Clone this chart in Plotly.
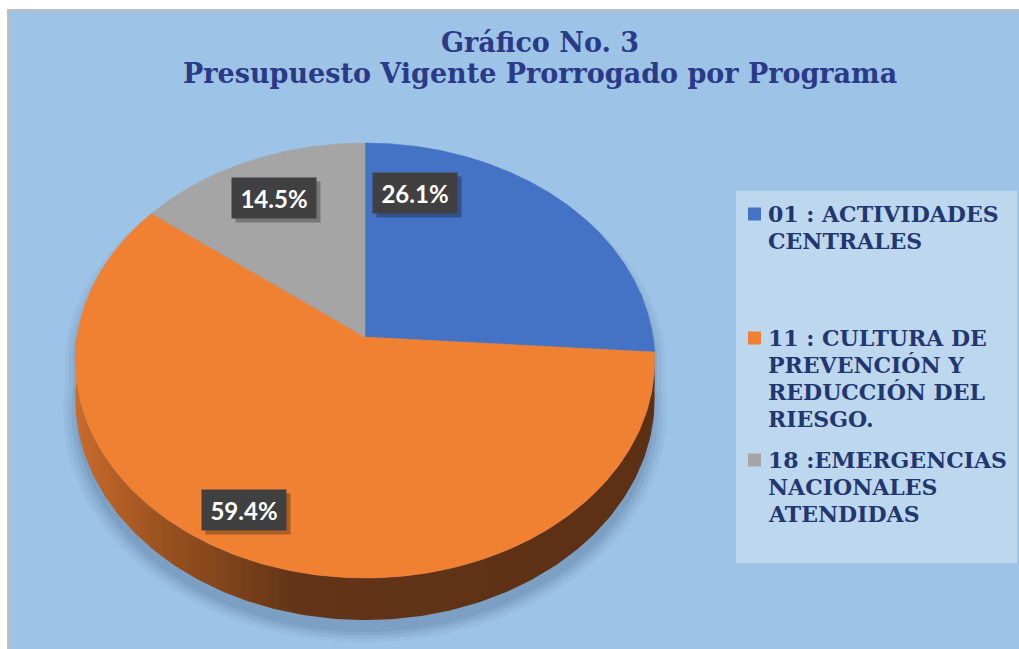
import numpy as np
import plotly.graph_objects as go

# ---------------- data ----------------
categories = [
    "01 : ACTIVIDADES<br>CENTRALES",
    "11 : CULTURA DE<br>PREVENCIÓN Y<br>REDUCCIÓN DEL<br>RIESGO.",
    "18 :EMERGENCIAS<br>NACIONALES<br>ATENDIDAS",
]
values = [26.1, 59.4, 14.5]
title_lines = ["Gráfico No. 3", "Presupuesto Vigente Prorrogado por Programa"]

# ---------------- styles / layout ----------------
W, Hh = 1019, 649
BG = "#9DC3E6"
LEG_BG = "#BDD7EE"
TITLE_C = "#2B3A87"
LEG_C = "#22376F"
colors = ["#4472C4", "#F08133", "#A5A5A5"]
wall_solid = ["#2E4E8C", None, "#6B6B6B"]
orange_wall_scale = [[0, "#C96B2C"], [0.15, "#9A521F"], [0.38, "#633417"], [1, "#5C3015"]]

# pie projection (pixel space)
CX, CY, R, RY, P, DEPTH = 365.0, 337.0, 288.0, 215.0, 0.108, 37.5


def rim(theta_deg, drop=0.0, grow=0.0, dy=0.0):
    t = np.radians(theta_deg)
    X, Z = np.sin(t), np.cos(t)
    s = 1.0 / (1.0 + P * Z)
    x = CX + (R + grow) * X * s
    y = CY - (RY + grow * 0.75) * Z * s + DEPTH * s * drop + dy
    return x, y


fig = go.Figure()

# soft shadow
for grow, alpha in [(12, 0.05), (8, 0.06), (4, 0.08), (0, 0.09)]:
    t1 = np.linspace(-90, 90, 181)
    t2 = np.linspace(90, 270, 181)
    x1, y1 = rim(t1, 0, grow, 12)
    x2, y2 = rim(t2, 1, grow, 12)
    fig.add_trace(go.Scatter(
        x=np.concatenate([x1, x2]), y=np.concatenate([y1, y2]),
        fill="toself", mode="lines", line=dict(width=0),
        fillcolor=f"rgba(30,60,100,{alpha})", hoverinfo="skip", showlegend=False))

total = sum(values)
edges = np.concatenate([[0], np.cumsum(values)]) / total * 360.0

# side walls (front half)
for i, v in enumerate(values):
    a0, a1 = edges[i], edges[i + 1]
    lo, hi = max(a0, 90.0), min(a1, 270.0)
    if lo >= hi:
        continue
    th = np.linspace(lo, hi, 200)
    xt, yt = rim(th, 0)
    xb, yb = rim(th[::-1], 1)
    kw = dict(x=np.concatenate([xt, xb]), y=np.concatenate([yt, yb]),
              fill="toself", mode="lines", line=dict(width=0),
              hoverinfo="skip", showlegend=False)
    if wall_solid[i] is None:
        kw["fillgradient"] = dict(type="horizontal", colorscale=orange_wall_scale)
    else:
        kw["fillcolor"] = wall_solid[i]
    fig.add_trace(go.Scatter(**kw))

# top faces
for i, v in enumerate(values):
    a0, a1 = edges[i], edges[i + 1]
    th = np.linspace(a0, a1, 300)
    xs, ys = rim(th, 0)
    fig.add_trace(go.Scatter(
        x=np.concatenate([[CX], xs, [CX]]), y=np.concatenate([[CY], ys, [CY]]),
        fill="toself", mode="lines", line=dict(width=0.5, color=colors[i]),
        fillcolor=colors[i], name=categories[i].replace("<br>", " "),
        text=f"{v:.1f}%", hoverinfo="name+text", showlegend=False))

# data labels
label_pos = [(415, 193), (244, 510), (274, 198)]
for i, v in enumerate(values):
    lx, ly = label_pos[i]
    txt = f"<b>{v:.1f}%</b>"
    fig.add_annotation(x=lx, y=ly, text=txt, showarrow=False, xshift=4, yshift=-4,
                       width=84, height=40, borderpad=0, bgcolor="rgba(0,0,0,0.28)",
                       font=dict(family="Lato", size=24, color="rgba(0,0,0,0)"))
    fig.add_annotation(x=lx, y=ly, text=txt, showarrow=False,
                       width=84, height=40, borderpad=0, bgcolor="#404040",
                       font=dict(family="Lato", size=24, color="white"))

# title
for line, ty in zip(title_lines, [42, 73]):
    fig.add_annotation(x=540, y=ty, text=f"<b>{line}</b>", showarrow=False,
                       font=dict(family="DejaVu Serif", size=27, color=TITLE_C))

# legend (box, markers, text)
shapes = [
    dict(type="rect", xref="x", yref="y", x0=8, y0=10, x1=1030, y1=660,
         fillcolor=BG, line=dict(color="#BFBFBF", width=2), layer="below"),
    dict(type="rect", xref="x", yref="y", x0=736, y0=191, x1=1017, y1=563,
         fillcolor=LEG_BG, line=dict(width=0), layer="below"),
]
leg_first_base = [222, 346, 468]
step = 26.9
for i, cat in enumerate(categories):
    b0 = leg_first_base[i]
    shapes.append(dict(type="rect", xref="x", yref="y", x0=748, x1=761,
                       y0=b0 - 14.5, y1=b0 - 1.5, fillcolor=colors[i],
                       line=dict(width=0), layer="above"))
    for j, ln in enumerate(cat.split("<br>")):
        fig.add_annotation(x=766, y=b0 + j * step - 8, xanchor="left", yanchor="middle",
                           text=f"<b>{ln}</b>", showarrow=False,
                           font=dict(family="DejaVu Serif", size=22, color=LEG_C))

fig.update_layout(
    width=W, height=Hh, margin=dict(l=0, r=0, t=0, b=0),
    paper_bgcolor="white", plot_bgcolor="rgba(0,0,0,0)",
    xaxis=dict(range=[0, W], visible=False, fixedrange=True),
    yaxis=dict(range=[Hh, 0], visible=False, fixedrange=True),
    shapes=shapes, showlegend=False,
)

fig.write_html("out.html", config={"displayModeBar": False},
               post_script="document.body.style.margin='0';document.body.style.overflow='hidden';")
